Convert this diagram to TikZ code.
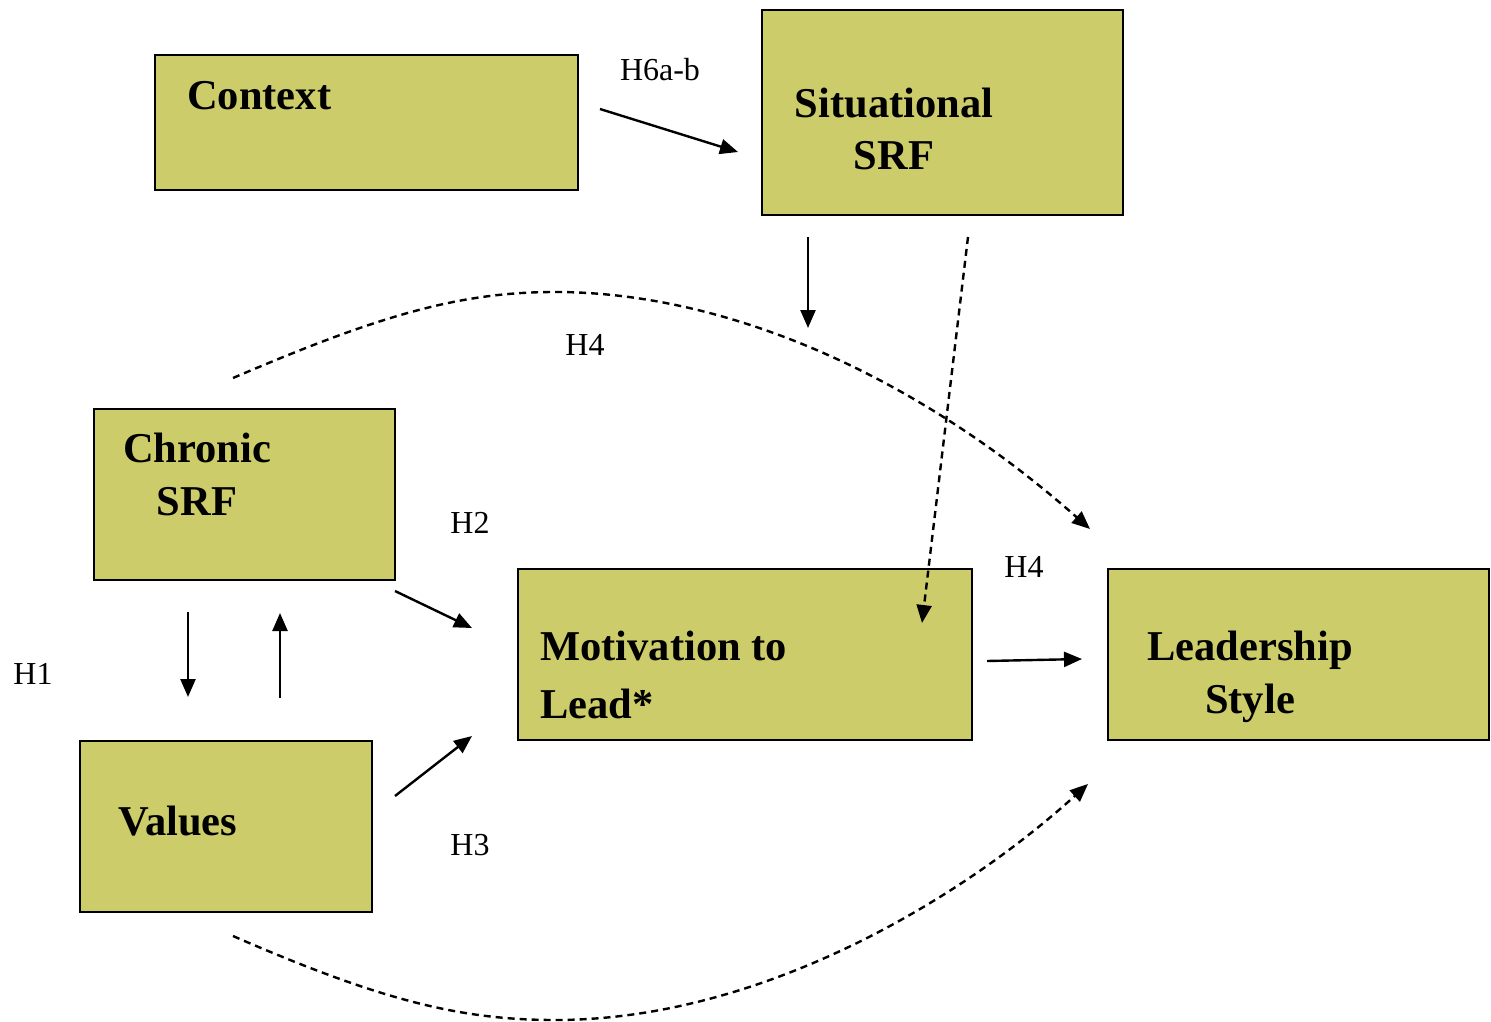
\documentclass[tikz,border=0pt]{standalone}
\usepackage{fontspec}
\setmainfont{Liberation Serif}
\usetikzlibrary{arrows.meta}
\definecolor{boxfill}{RGB}{204,204,106}
\begin{document}
\begin{tikzpicture}[x=1pt,y=-1pt,
  box/.style={draw=black, line width=2.2pt, fill=boxfill, anchor=north west, inner sep=0pt, outer sep=0pt},
  title/.style={font=\fontsize{42.5}{52}\selectfont\bfseries, inner sep=0pt},
  hyp/.style={font=\fontsize{32}{38}\selectfont, inner sep=0pt},
  link/.style={line width=2.4pt, -{Triangle[length=18pt,width=15pt]}},
  dashlink/.style={link, dash pattern=on 7pt off 5pt},
]
\useasboundingbox (0,0) rectangle (1491,1022);

% boxes
\node[box, minimum width=423pt, minimum height=135pt] (ctx) at (155,55) {};
\node[box, minimum width=361pt, minimum height=205pt] (sit) at (762,10) {};
\node[box, minimum width=301pt, minimum height=171pt] (chr) at (94,409) {};
\node[box, minimum width=292pt, minimum height=171pt] (val) at (80,741) {};
\node[box, minimum width=454pt, minimum height=171pt] (mtl) at (518,569) {};
\node[box, minimum width=381pt, minimum height=171pt] (lds) at (1108,569) {};

% box titles
\node[title, anchor=base west] (ctxT) at (187,110) {Context};
\node[title, anchor=base] (sitT1) at (894,118) {Situational};
\node[title, anchor=base] (sitT2) at (894,169) {SRF};
\node[title, anchor=base] (chrT1) at (197,462) {Chronic};
\node[title, anchor=base] (chrT2) at (197,515) {SRF};
\node[title, anchor=base west] (valT) at (118,835) {Values};
\node[title, anchor=base west] (mtlT1) at (540,660) {Motivation to};
\node[title, anchor=base west] (mtlT2) at (540,718) {Lead*};
\node[title, anchor=base] (ldsT1) at (1250,660) {Leadership};
\node[title, anchor=base] (ldsT2) at (1250,713) {Style};

% hypothesis labels
\node[hyp, anchor=base] (h6) at (660,81) {H6a-b};
\node[hyp, anchor=base] (h4a) at (585,355) {H4};
\node[hyp, anchor=base] (h2) at (470,533) {H2};
\node[hyp, anchor=base] (h4b) at (1024,577) {H4};
\node[hyp, anchor=base] (h1) at (33,684) {H1};
\node[hyp, anchor=base] (h3) at (470,855) {H3};

% connector end points
\coordinate (ctxOut) at (600,109);
\coordinate (sitIn) at (738,152);
\coordinate (sitDownA) at (808,237);
\coordinate (sitDownB) at (808,328);
\coordinate (sitDashA) at (968,237);
\coordinate (sitDashB) at (922,623);
\coordinate (chrOut) at (395,591);
\coordinate (mtlInTop) at (472,628);
\coordinate (valOut) at (395,796);
\coordinate (mtlInBot) at (472,736);
\coordinate (chrDownA) at (188,612);
\coordinate (chrDownB) at (188,697);
\coordinate (valUpA) at (280,698);
\coordinate (valUpB) at (280,613);
\coordinate (mtlOut) at (987,661);
\coordinate (ldsIn) at (1082,659);
\coordinate (topStart) at (233,378);
\coordinate (topPeak) at (555,292);
\coordinate (topEnd) at (1090,529);
\coordinate (botStart) at (233,936);
\coordinate (botLow) at (555,1020);
\coordinate (botEnd) at (1088,784);

% solid arrows
\draw[link] (ctxOut) -- (sitIn);
\draw[link] (sitDownA) -- (sitDownB);
\draw[link] (chrOut) -- (mtlInTop);
\draw[link] (valOut) -- (mtlInBot);
\draw[link] (chrDownA) -- (chrDownB);
\draw[link] (valUpA) -- (valUpB);
\draw[link] (mtlOut) -- (ldsIn);

% dashed arrows
\draw[dashlink] (sitDashA) -- (sitDashB);
\draw[dashlink] (topStart) .. controls (380,315) and (460,292) .. (topPeak)
  .. controls (720,292) and (910,370) .. (topEnd);
\draw[dashlink] (botStart) .. controls (380,1000) and (460,1020) .. (botLow)
  .. controls (760,1020) and (960,900) .. (botEnd);
\end{tikzpicture}
\end{document}
